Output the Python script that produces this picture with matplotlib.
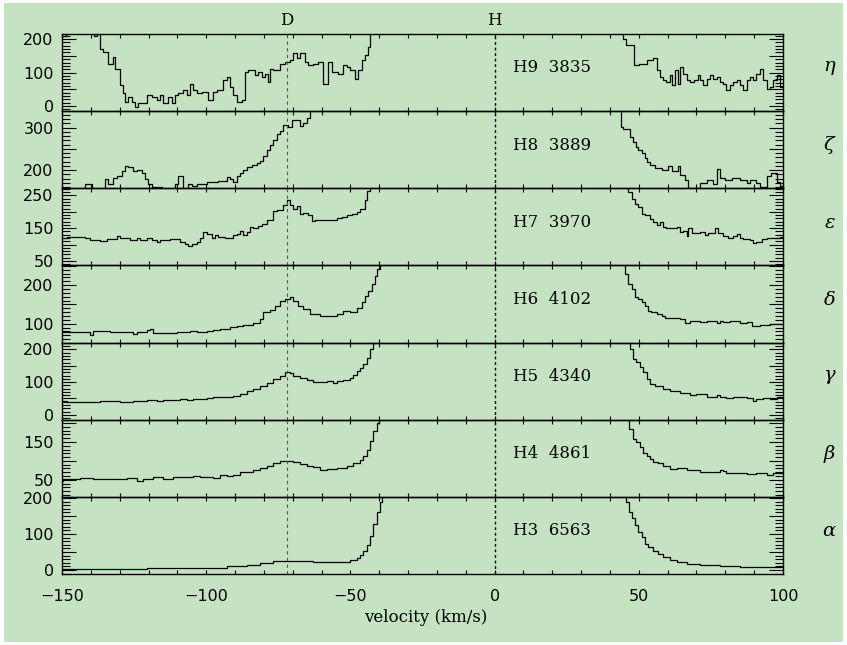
import matplotlib
matplotlib.use("Agg")
import matplotlib.pyplot as plt
from matplotlib.ticker import MultipleLocator, FuncFormatter
from matplotlib.patches import Rectangle
import matplotlib.transforms as mtransforms

plt.rcParams['mathtext.fontset'] = 'dejavuserif'

# ---------------- data ----------------
line_names = ["H9", "H8", "H7", "H6", "H5", "H4", "H3"]
line_waves = ["3835", "3889", "3970", "4102", "4340", "4861", "6563"]
greek = [r"$\eta$", r"$\zeta$", r"$\epsilon$", r"$\delta$", r"$\gamma$", r"$\beta$", r"$\alpha$"]
ytick_labels = [[0, 100, 200], [200, 300], [50, 150, 250], [100, 200],
                [0, 100, 200], [50, 150], [0, 100, 200]]
marker_names = ["D", "H"]
marker_vel = [-72, 0]

# H9 3835
h9_left_v = [-150.0, -148.6, -138.8, -137.9, -136.8, -135.7, -133.9, -132.4, -131.6, -129.9,
             -128.7, -128.2, -127.0, -125.8, -124.7, -123.5, -120.6, -118.9, -117.2, -116.0,
             -114.9, -113.1, -112.0, -110.8, -109.7, -107.9, -106.8, -105.6, -104.5, -103.3,
             -101.6, -99.3, -97.5, -96.4, -94.1, -92.9, -91.7, -90.6, -89.4, -87.7,
             -86.5, -85.4, -83.1, -81.9, -80.8, -79.6, -78.5, -77.9, -76.7, -74.4,
             -72.7, -70.9, -69.8, -68.6, -67.5, -65.7, -64.6, -62.9, -61.1, -59.4,
             -57.7, -56.5, -54.2, -52.5, -51.3, -50.1, -48.4, -47.3, -46.1, -44.9,
             -43.8, -43.2]
h9_left_f = [208, 260, 210, 260, 169, 162, 127, 147, 111, 62,
             38, 13, 27, 13, -2, 8, 32, 27, 17, 32,
             8, 27, 8, 32, 38, 47, 32, 67, 47, 38,
             42, 17, 42, 47, 77, 87, 57, 32, 13, 17,
             102, 107, 92, 102, 87, 97, 72, 111, 107, 127,
             132, 137, 157, 142, 157, 132, 122, 127, 132, 67,
             132, 102, 97, 122, 117, 107, 82, 107, 137, 152,
             177, 300]
h9_right_v = [44.0, 44.4, 45.5, 48.3, 50.1, 52.7, 55.0, 56.2, 57.3, 58.5,
              59.6, 60.8, 61.4, 62.5, 63.7, 64.2, 65.4, 66.6, 67.7, 69.0,
              70.4, 71.2, 72.3, 73.5, 74.6, 75.8, 77.0, 78.1, 79.3, 80.4,
              81.6, 82.7, 83.9, 85.0, 86.2, 87.4, 88.5, 89.7, 90.8, 92.0,
              93.1, 94.3, 95.5, 96.6, 97.8, 98.9]
h9_right_f = [260, 201, 182, 122, 127, 137, 142, 107, 87, 77,
              72, 92, 62, 107, 67, 117, 97, 77, 72, 77,
              92, 77, 62, 82, 92, 82, 87, 72, 67, 47,
              62, 72, 77, 62, 47, 77, 87, 77, 97, 112,
              77, 52, 57, 77, 92, 57]

# H8 3889
h8_left_v = [-150.0, -142.0, -140.9, -139.7, -135.1, -133.9, -132.2, -131.0, -129.3, -128.2,
             -127.0, -125.3, -124.1, -122.4, -121.2, -120.1, -118.9, -117.8, -115.4, -110.8,
             -109.7, -108.2, -106.2, -105.0, -103.3, -99.8, -95.8, -92.9, -91.7, -90.6,
             -89.4, -88.3, -87.1, -86.0, -84.2, -82.5, -81.3, -80.2, -79.0, -77.9,
             -76.7, -75.6, -74.4, -73.3, -71.5, -70.4, -67.5, -66.3, -65.2, -64.0]
h8_left_f = [140, 166, 168, 140, 178, 167, 181, 186, 197, 209,
             207, 197, 201, 193, 178, 167, 159, 160, 140, 166,
             186, 150, 166, 163, 168, 171, 174, 183, 178, 173,
             186, 193, 201, 207, 213, 217, 221, 233, 248, 260,
             272, 284, 291, 307, 301, 317, 303, 310, 322, 400]
h8_right_v = [43.0, 43.7, 44.6, 46.9, 48.1, 49.2, 49.8, 51.0, 52.1, 52.7,
              53.8, 55.6, 57.9, 60.2, 61.4, 63.7, 64.2, 66.0, 67.1, 71.2,
              73.5, 75.8, 77.0, 78.1, 79.9, 82.2, 85.0, 87.4, 88.5, 90.8,
              92.0, 94.3, 96.0, 97.8, 98.9]
h8_right_f = [400, 302, 296, 279, 267, 255, 248, 240, 228, 220,
              212, 205, 201, 210, 197, 210, 189, 177, 158, 169,
              177, 168, 202, 181, 177, 181, 176, 169, 177, 169,
              160, 185, 193, 173, 163]

# H7 3970
h7_left_v = [-150.0, -148.4, -142.0, -140.3, -136.8, -134.5, -131.0, -129.9, -128.2, -126.4,
             -124.1, -123.0, -120.6, -118.9, -117.2, -116.0, -112.5, -109.1, -107.4, -106.2,
             -105.0, -103.3, -102.1, -101.0, -99.8, -98.1, -96.9, -95.8, -93.5, -90.6,
             -89.4, -88.3, -87.1, -86.0, -84.8, -83.7, -81.9, -80.8, -79.0, -76.7,
             -75.6, -73.3, -72.1, -70.9, -69.8, -68.6, -67.5, -66.3, -64.6, -63.4,
             -62.3, -60.5, -58.2, -54.8, -53.0, -51.3, -49.6, -47.8, -46.7, -44.9,
             -44.1, -43.2]
h7_left_f = [119, 122, 120, 114, 111, 116, 126, 119, 120, 114,
             119, 114, 119, 114, 107, 114, 117, 107, 101, 96,
             101, 109, 119, 139, 131, 121, 129, 122, 121, 129,
             131, 142, 129, 139, 154, 149, 157, 164, 174, 202,
             205, 220, 235, 220, 210, 217, 192, 195, 190, 171,
             174, 176, 174, 181, 184, 190, 192, 200, 208, 235,
             265, 320]
h7_right_v = [45.5, 46.3, 47.5, 48.6, 49.8, 51.0, 52.1, 53.8, 55.0, 56.2,
              57.3, 58.5, 59.6, 63.1, 64.2, 65.4, 66.6, 67.1, 68.3, 71.2,
              72.9, 74.1, 76.4, 77.5, 79.3, 81.0, 82.7, 83.9, 85.0, 86.2,
              88.5, 89.7, 90.8, 92.6, 94.3, 96.6, 98.9]
h7_right_f = [320, 260, 240, 225, 215, 194, 189, 179, 169, 161,
              169, 154, 151, 154, 139, 141, 127, 149, 136, 139,
              129, 136, 149, 134, 127, 119, 127, 131, 119, 116,
              114, 104, 109, 116, 119, 121, 124]

# H6 4102
h6_left_v = [-150.0, -147.2, -143.8, -140.3, -139.1, -133.4, -125.3, -124.1, -120.6, -119.5,
             -118.3, -110.2, -105.6, -103.3, -99.8, -97.5, -95.2, -91.7, -89.4, -87.1,
             -83.7, -81.3, -80.2, -77.9, -76.1, -74.4, -72.7, -70.9, -69.8, -68.1,
             -66.3, -64.0, -60.5, -57.1, -54.8, -52.4, -50.1, -47.8, -46.1, -44.9,
             -43.8, -42.6, -41.5, -40.9, -39.7]
h6_left_f = [79, 78, 79, 70, 80, 78, 72, 78, 84, 86,
             75, 78, 81, 78, 81, 84, 86, 91, 95, 97,
             103, 112, 129, 136, 146, 159, 164, 168, 159, 146,
             138, 125, 121, 121, 125, 133, 130, 141, 155, 172,
             185, 202, 224, 242, 320]
h6_right_v = [44.5, 45.2, 46.3, 47.5, 48.6, 49.8, 51.0, 52.1, 53.3, 54.4,
              56.2, 57.9, 59.0, 61.9, 64.2, 66.0, 67.7, 70.0, 71.2, 73.5,
              77.0, 78.1, 79.3, 81.6, 85.0, 87.4, 89.1, 92.0, 95.5]
h6_right_f = [320, 230, 203, 190, 168, 164, 155, 146, 133, 129,
              125, 121, 115, 116, 112, 103, 107, 108, 104, 107,
              103, 108, 104, 107, 101, 104, 95, 97, 99]

# H5 4340
h5_left_v = [-150.0, -148.4, -136.8, -129.9, -125.3, -120.6, -117.2, -114.9, -109.1, -106.8,
             -104.5, -99.8, -97.5, -95.2, -90.6, -88.3, -86.0, -83.7, -81.3, -79.0,
             -76.7, -74.4, -72.7, -70.9, -69.8, -67.5, -65.2, -62.9, -58.2, -55.9,
             -54.8, -52.4, -50.1, -49.0, -47.8, -46.7, -45.5, -44.4, -43.2, -42.0,
             -41.5]
h5_left_f = [41, 38, 41, 38, 43, 46, 41, 46, 48, 45,
             48, 51, 56, 54, 58, 63, 72, 79, 87, 97,
             110, 120, 131, 128, 118, 113, 106, 100, 103, 97,
             103, 108, 113, 123, 133, 144, 154, 174, 200, 221,
             320]
h5_right_v = [46.2, 46.9, 48.1, 49.2, 50.4, 51.5, 52.7, 53.8, 55.6, 58.5,
              60.8, 64.2, 67.7, 70.0, 73.5, 74.6, 77.0, 78.1, 80.4, 82.7,
              87.4, 89.7, 90.8, 93.1, 95.5, 97.8]
h5_right_f = [320, 200, 171, 161, 146, 130, 110, 94, 89, 79,
              74, 67, 61, 64, 53, 56, 61, 53, 50, 53,
              50, 43, 48, 50, 48, 53]

# H4 4861
h4_left_v = [-150.0, -149.5, -143.8, -139.1, -127.6, -124.1, -121.8, -118.3, -114.9, -111.4,
             -106.8, -104.5, -102.1, -99.8, -97.5, -95.2, -92.9, -90.6, -88.3, -86.0,
             -83.7, -81.3, -79.0, -76.7, -74.4, -72.1, -69.8, -67.5, -65.2, -62.9,
             -60.5, -58.2, -54.8, -51.3, -49.0, -46.7, -45.5, -44.4, -43.2, -42.0,
             -40.9, -40.0]
h4_left_f = [48, 52, 55, 52, 55, 48, 52, 57, 52, 57,
             58, 61, 58, 57, 55, 64, 61, 64, 70, 72,
             77, 81, 87, 94, 99, 100, 96, 92, 87, 83,
             77, 78, 81, 87, 94, 103, 112, 130, 152, 178,
             200, 320]
h4_right_v = [45.8, 46.6, 48.1, 49.2, 50.4, 51.5, 52.7, 53.8, 55.0, 56.7,
              58.5, 60.8, 63.1, 66.6, 71.2, 78.1, 79.3, 80.4, 85.0, 87.4,
              90.8, 94.3, 96.6]
h4_right_f = [320, 185, 158, 149, 136, 122, 113, 105, 98, 94,
              87, 78, 80, 76, 71, 76, 74, 69, 67, 65,
              67, 62, 67]

# H3 6563
h3_left_v = [-150.0, -125.3, -120.6, -104.5, -92.9, -86.0, -81.3, -76.7, -72.1, -67.5,
             -62.9, -58.2, -52.4, -50.1, -47.8, -46.7, -45.5, -44.4, -43.2, -42.0,
             -40.9, -39.7, -39.2]
h3_left_f = [2, 3, 5, 7, 11, 14, 19, 24, 26, 24,
             22, 21, 23, 28, 33, 42, 52, 70, 94, 127,
             160, 188, 320]
h3_right_v = [44.6, 45.4, 46.6, 47.7, 48.6, 49.8, 51.0, 52.1, 53.3, 55.0,
              56.7, 58.5, 60.8, 63.1, 66.6, 71.2, 78.1, 85.0, 94.3]
h3_right_f = [320, 190, 161, 143, 124, 105, 91, 72, 63, 54,
              44, 35, 28, 23, 17, 13, 11, 9, 9]

spectra = [
    (h9_left_v, h9_left_f, h9_right_v, h9_right_f),
    (h8_left_v, h8_left_f, h8_right_v, h8_right_f),
    (h7_left_v, h7_left_f, h7_right_v, h7_right_f),
    (h6_left_v, h6_left_f, h6_right_v, h6_right_f),
    (h5_left_v, h5_left_f, h5_right_v, h5_right_f),
    (h4_left_v, h4_left_f, h4_right_v, h4_right_f),
    (h3_left_v, h3_left_f, h3_right_v, h3_right_f),
]

# ---------------- layout / style ----------------
W, H = 847, 645
GREEN = "#c5e3c3"
ylims = [(-15, 215), (157, 339), (36, 272), (51, 251), (-15, 221), (5, 209), (-11, 203)]
serif = "DejaVu Serif"

fig = plt.figure(figsize=(W / 100, H / 100), dpi=100)
fig.patch.set_facecolor("white")
fig.patches.append(Rectangle((4 / W, 3 / H), 839 / W, 639 / H, transform=fig.transFigure,
                             facecolor=GREEN, edgecolor="none", zorder=-10))

axes = fig.subplots(7, 1, sharex=True, gridspec_kw=dict(hspace=0))
fig.subplots_adjust(left=62 / W, right=783 / W, top=1 - 34 / H, bottom=1 - 574 / H)

for i, ax in enumerate(axes):
    lv, lf, rv, rf = spectra[i]
    ax.set_facecolor("none")
    ax.step(list(lv) + [-37.0], list(lf) + [lf[-1]], where="post", color="black", lw=0.9)
    ax.step(list(rv) + [101.0], list(rf) + [rf[-1]], where="post", color="black", lw=0.9)
    ax.axvline(marker_vel[0], color="#555555", lw=0.8, ls=(0, (3, 3)))
    ax.axvline(marker_vel[1], color="black", lw=1.0, ls=(0, (2, 2)))
    ax.set_xlim(-150, 100)
    ax.set_ylim(*ylims[i])

    ax.xaxis.set_major_locator(MultipleLocator(50))
    ax.xaxis.set_minor_locator(MultipleLocator(10))
    ax.yaxis.set_major_locator(MultipleLocator(50))
    ax.yaxis.set_minor_locator(MultipleLocator(10))
    labs = set(ytick_labels[i])
    ax.yaxis.set_major_formatter(FuncFormatter(
        lambda y, p, labs=labs: f"{int(round(y))}" if int(round(y)) in labs else ""))
    ax.tick_params(axis="both", which="both", direction="in", top=True, right=True,
                   labelsize=11.5, width=0.8)
    ax.tick_params(axis="y", which="major", length=10, pad=6)
    ax.tick_params(axis="y", which="minor", length=5.5)
    ax.tick_params(axis="x", which="both", length=3, pad=11)
    if i < 6:
        ax.tick_params(axis="x", labelbottom=False)
    for s in ax.spines.values():
        s.set_linewidth(1.0)

    trans = mtransforms.blended_transform_factory(ax.transData, ax.transAxes)
    ax.text(6.4, 0.56, f"{line_names[i]}  {line_waves[i]}", transform=trans,
            ha="left", va="center", fontfamily=serif, fontsize=12)
    ax.text(1.065, 0.56, greek[i], transform=ax.transAxes, ha="center", va="center",
            fontsize=14)

trans0 = mtransforms.blended_transform_factory(axes[0].transData, axes[0].transAxes)
for name, v in zip(marker_names, marker_vel):
    axes[0].text(v, 1.17, name, transform=trans0, ha="center", va="center",
                 fontfamily=serif, fontsize=12)

fig.text(426 / W, 1 - 618 / H, "velocity (km/s)", ha="center", va="center",
         fontfamily=serif, fontsize=12)

fig.savefig("out.png", dpi=100, facecolor=fig.get_facecolor())
